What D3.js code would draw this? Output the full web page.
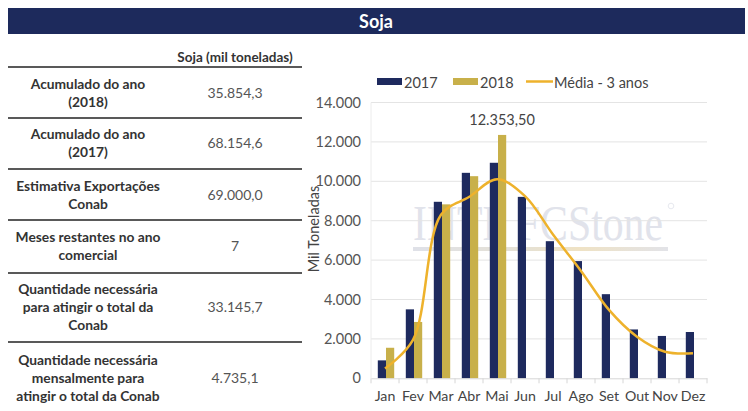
<!DOCTYPE html>
<html><head><meta charset="utf-8">
<script src="https://cdn.jsdelivr.net/npm/d3@7"></script>
<style>
html,body{margin:0;padding:0;background:#fff;}
svg{display:block;font-family:Lato,"Open Sans",sans-serif;}
</style></head>
<body>
<svg id="c" width="748" height="411"></svg>
<script>
const title = "Soja";
const tableHeader = "Soja (mil toneladas)";
const tableLabels = [
  ["Acumulado do ano", "(2018)"],
  ["Acumulado do ano", "(2017)"],
  ["Estimativa Exportações", "Conab"],
  ["Meses restantes no ano", "comercial"],
  ["Quantidade necessária", "para atingir o total da", "Conab"],
  ["Quantidade necessária", "mensalmente para", "atingir o total da Conab"]
];
const tableValues = ["35.854,3", "68.154,6", "69.000,0", "7", "33.145,7", "4.735,1"];

const months = ["Jan","Fev","Mar","Abr","Mai","Jun","Jul","Ago","Set","Out","Nov","Dez"];
const series2017 = [910, 3500, 8960, 10430, 10940, 9210, 6960, 5950, 4270, 2480, 2150, 2350];
const series2018 = [1550, 2860, 8830, 10260, 12353.5, null, null, null, null, null, null, null];
const media3anos = [500, 1950, 8300, 9200, 10100, 9250, 7300, 5450, 3470, 2110, 1350, 1270];
const yTicks = [0, 2000, 4000, 6000, 8000, 10000, 12000, 14000];
const legendNames = ["2017", "2018", "Média - 3 anos"];
const peakLabel = "12.353,50";

const C17 = "#1e2a5e", C18 = "#c8b04a", CL = "#eeb22c";
const svg = d3.select("#c");

// Title bar
svg.append("rect").attr("x",8).attr("y",8).attr("width",737).attr("height",26).attr("fill","#1d2a5c");
svg.append("text").attr("x",376).attr("y",27.5).attr("text-anchor","middle")
  .attr("fill","#fff").attr("font-weight","bold").attr("font-size",18).text(title);

// Table
const tg = svg.append("g");
tg.append("text").attr("x",235).attr("y",62).attr("text-anchor","middle")
  .attr("font-weight","bold").attr("font-size",13.5).attr("fill","#333").text(tableHeader);
const lineYs = [67, 118, 169, 220, 273, 342];
lineYs.forEach(yy => tg.append("line").attr("x1",8).attr("x2",302).attr("y1",yy).attr("y2",yy)
  .attr("stroke","#595959").attr("stroke-width",2));
const rowCenters = [93, 143, 195, 246, 307, 378];
tableLabels.forEach((lines, i) => {
  const n = lines.length, lh = 18;
  lines.forEach((t, j) => {
    tg.append("text").attr("x",88).attr("y", rowCenters[i] + (j - (n-1)/2)*lh + 5)
      .attr("text-anchor","middle").attr("font-weight","bold").attr("font-size",13.8)
      .attr("fill","#333").text(t);
  });
  tg.append("text").attr("x",235).attr("y",rowCenters[i]+5).attr("text-anchor","middle")
    .attr("font-size",14).attr("fill","#555").text(tableValues[i]);
});

// Chart
const pL = 371, pR = 707, pT = 102.5, pB = 378.3;
const x = d3.scaleBand().domain(months).range([pL, pR]).padding(0);
const y = d3.scaleLinear().domain([0, 14000]).range([pB, pT]);
const bw = 8.2;

// watermark (faint logo)
const wm = svg.append("g");
wm.append("text").attr("x",413).attr("y",240).attr("font-family","'Liberation Serif','DejaVu Serif',serif")
  .attr("font-size",50).attr("fill","#e1e3eb").attr("textLength",250).attr("lengthAdjust","spacingAndGlyphs")
  .text("INTL FCStone");
wm.append("circle").attr("cx",671).attr("cy",206).attr("r",2.8).attr("fill","none")
  .attr("stroke","#e1e3eb").attr("stroke-width",0.8);
const grad = svg.append("defs").append("linearGradient").attr("id","wg");
[["0%","#dfe1e8"],["45%","#e6e1d3"],["65%","#efe2c4"],["100%","#e2e3e8"]].forEach(s =>
  grad.append("stop").attr("offset",s[0]).attr("stop-color",s[1]));
wm.append("rect").attr("x",413).attr("y",247).attr("width",255).attr("height",4).attr("fill","url(#wg)");

// gridlines
const g = svg.append("g");
g.selectAll(".grid").data(yTicks.filter(d => d > 0)).join("line")
  .attr("x1",pL).attr("x2",pR).attr("y1",d=>y(d)).attr("y2",d=>y(d))
  .attr("stroke","#e4e4e4").attr("stroke-width",1);
g.append("line").attr("x1",pL).attr("x2",pL).attr("y1",pT).attr("y2",pB)
  .attr("stroke","#ececec");

// y axis labels
const yAxis = d3.axisLeft(y).tickValues(yTicks).tickSize(0).tickPadding(10)
  .tickFormat(d => d3.format(",")(d).replace(/,/g, "."));
const ya = svg.append("g").attr("transform",`translate(${pL},0)`).call(yAxis);
ya.select(".domain").remove();
ya.selectAll("text").attr("font-size",14.5).attr("fill","#555").attr("font-family","Lato,sans-serif");

svg.append("text").attr("transform","translate(319,229) rotate(-90)").attr("text-anchor","middle")
  .attr("font-size",14.5).attr("fill","#444").text("Mil Toneladas");

// bars
svg.append("g").selectAll("rect").data(months.map((m,i)=>({m,v:series2017[i]}))).join("rect")
  .attr("x", d => x(d.m) + x.bandwidth()/2 - bw + 1).attr("width", bw)
  .attr("y", d => y(d.v)).attr("height", d => y(0) - y(d.v)).attr("fill", C17);
svg.append("g").selectAll("rect").data(months.map((m,i)=>({m,v:series2018[i]})).filter(d=>d.v!=null)).join("rect")
  .attr("x", d => x(d.m) + x.bandwidth()/2 + 1).attr("width", bw)
  .attr("y", d => y(d.v)).attr("height", d => y(0) - y(d.v)).attr("fill", C18);

// x axis
const xAxis = d3.axisBottom(x).tickSize(0).tickPadding(12.5);
const xa = svg.append("g").attr("transform",`translate(0,${pB})`).call(xAxis);
xa.select(".domain").attr("stroke","#d6d6d6");
xa.selectAll("text").attr("font-size",14.2).attr("fill","#444").attr("font-family","Lato,sans-serif");
svg.append("g").selectAll("line").data(d3.range(months.length+1)).join("line")
  .attr("x1", i => pL + i*x.bandwidth()).attr("x2", i => pL + i*x.bandwidth())
  .attr("y1", pB).attr("y2", pB+5).attr("stroke","#d6d6d6");

// average line
const line = d3.line().x((d,i) => x(months[i]) + x.bandwidth()/2).y(d => y(d)).curve(d3.curveCatmullRom.alpha(0.5));
svg.append("path").datum(media3anos).attr("d", line).attr("fill","none")
  .attr("stroke", CL).attr("stroke-width", 2.5);

// peak label
const pi = 4;
svg.append("text").attr("x", x(months[pi]) + x.bandwidth()/2 + 1 + bw/2).attr("y", y(series2018[pi]) - 10)
  .attr("text-anchor","middle").attr("font-size",14.5).attr("fill","#444").text(peakLabel);

// legend
const lg = svg.append("g").attr("font-size",14.5).attr("fill","#444");
lg.append("rect").attr("x",377).attr("y",78).attr("width",25).attr("height",7).attr("fill",C17);
lg.append("text").attr("x",404).attr("y",87.5).text(legendNames[0]);
lg.append("rect").attr("x",453).attr("y",78).attr("width",25).attr("height",7).attr("fill",C18);
lg.append("text").attr("x",480).attr("y",87.5).text(legendNames[1]);
lg.append("line").attr("x1",526).attr("x2",553).attr("y1",81.5).attr("y2",81.5).attr("stroke",CL).attr("stroke-width",2.5);
lg.append("text").attr("x",554).attr("y",87.5).text(legendNames[2]);
</script>
</body></html>
